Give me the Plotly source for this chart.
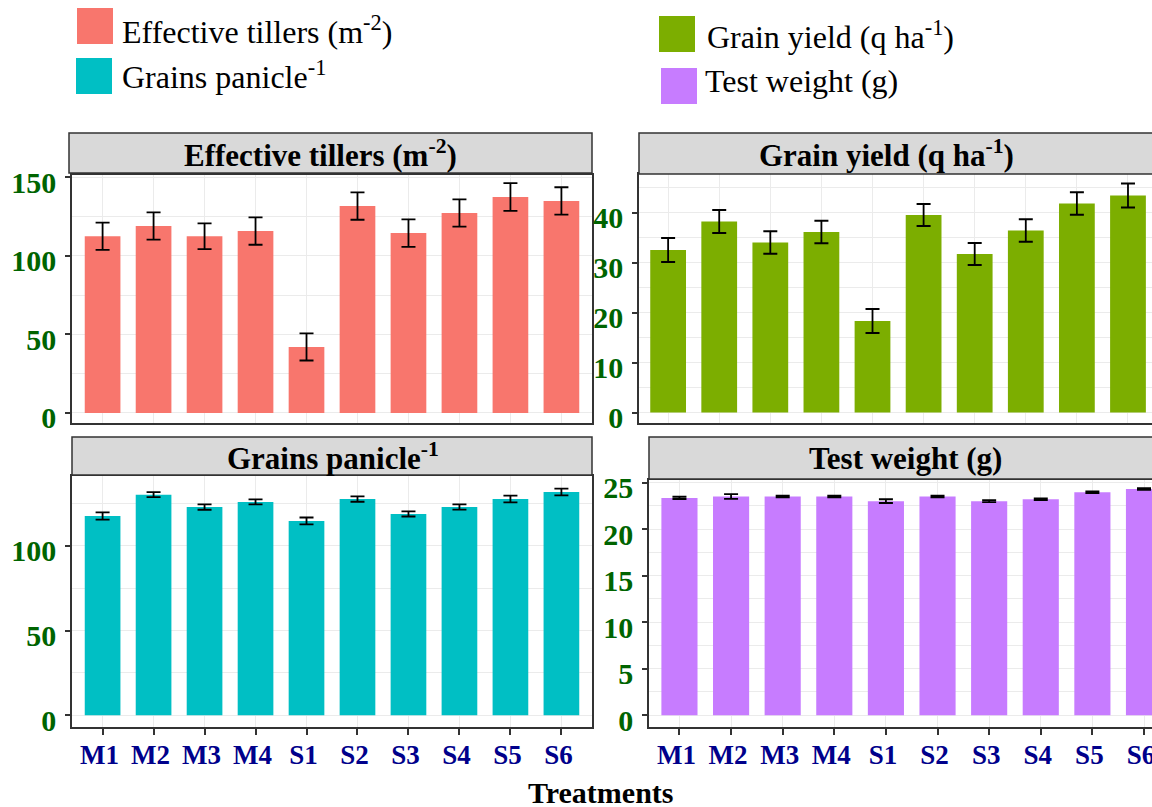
import plotly.graph_objects as go

# ---------------- data ----------------
treatments = ["M1", "M2", "M3", "M4", "S1", "S2", "S3", "S4", "S5", "S6"]

tillers = [112.5, 119.0, 112.5, 115.8, 42.0, 131.7, 114.5, 127.3, 137.5, 135.0]
tillers_err = [8.7, 8.7, 8.2, 8.7, 8.6, 8.7, 8.7, 8.7, 8.8, 8.7]

grain_yield = [32.5, 38.2, 34.0, 36.1, 18.3, 39.5, 31.7, 36.4, 41.8, 43.4]
grain_yield_err = [2.4, 2.3, 2.25, 2.25, 2.4, 2.2, 2.2, 2.25, 2.25, 2.4]

grains_panicle = [117.6, 130.2, 122.9, 125.9, 114.7, 127.6, 118.8, 122.9, 127.6, 131.8]
grains_panicle_err = [2.1, 1.5, 1.6, 1.5, 2.0, 1.6, 1.5, 1.5, 2.0, 2.0]

test_weight = [23.35, 23.5, 23.5, 23.5, 23.0, 23.5, 23.0, 23.2, 23.95, 24.3]
test_weight_err = [0.12, 0.25, 0.1, 0.1, 0.2, 0.1, 0.1, 0.1, 0.1, 0.1]

colors = {"till": "#F8766D", "yield": "#7CAE00", "pan": "#00BFC4", "tw": "#C77CFF"}

W, H = 1152, 807
def fx(p): return p / W
def fy(p): return 1 - p / H

SERIF = "Liberation Serif"
GRID = "#EBEBEB"
BORDER = "#333333"

fig = go.Figure()

panels = [
    dict(v=tillers, e=tillers_err, c=colors["till"], n=1,
         xp=(72, 592), yp=(175, 423), yr=[-6.4, 151.5], xr=[-0.6, 9.6], dt=50,
         title="Effective tillers (m<sup>-2</sup>)", strip=(69, 592, 133, 173), tx=320, ty=153, bottom=False),
    dict(v=grain_yield, e=grain_yield_err, c=colors["yield"], n=2,
         xp=(639, 1152), yp=(174, 423), yr=[-2.1, 47.7], xr=[-0.57, 9.47], dt=10,
         title="Grain yield (q ha<sup>-1</sup>)", strip=(639, 1160, 133, 174), tx=886, ty=153, bottom=False),
    dict(v=grains_panicle, e=grains_panicle_err, c=colors["pan"], n=3,
         xp=(72, 592), yp=(476, 727), yr=[-6.9, 141.2], xr=[-0.6, 9.6], dt=50,
         title="Grains panicle<sup>-1</sup>", strip=(72, 592, 437, 475), tx=333, ty=456, bottom=True),
    dict(v=test_weight, e=test_weight_err, c=colors["tw"], n=4,
         xp=(649, 1152), yp=(480, 727), yr=[-1.26, 25.27], xr=[-0.59, 9.155], dt=5,
         title="Test weight (g)", strip=(649, 1160, 437, 479), tx=905, ty=458, bottom=True),
]

shapes = []
annotations = []
layout_axes = {}

for p in panels:
    n = p["n"]
    xa = "x" if n == 1 else f"x{n}"
    ya = "y" if n == 1 else f"y{n}"
    fig.add_trace(go.Bar(
        x=treatments, y=p["v"], width=0.7, xaxis=xa, yaxis=ya,
        marker=dict(color=p["c"], line=dict(width=0)),
        error_y=dict(type="data", array=p["e"], color="black", thickness=1.8, width=7),
        showlegend=False,
    ))
    xkey = "xaxis" if n == 1 else f"xaxis{n}"
    ykey = "yaxis" if n == 1 else f"yaxis{n}"
    layout_axes[xkey] = dict(
        domain=[fx(p["xp"][0]), fx(p["xp"][1])], anchor=ya, type="category",
        range=p["xr"], automargin=False, showgrid=True, gridcolor=GRID, gridwidth=1.2,
        showline=True, mirror=True, linecolor=BORDER, linewidth=1.5,
        ticks="outside" if p["bottom"] else "", ticklen=6, tickcolor=BORDER, tickwidth=1.5,
        showticklabels=p["bottom"], ticklabelstandoff=-3, ticklabelshift=-3,
        tickfont=dict(family=SERIF, size=27, color="#00008B", weight="bold"),
        zeroline=False,
    )
    layout_axes[ykey] = dict(
        domain=[fy(p["yp"][1]), fy(p["yp"][0])], anchor=xa,
        range=p["yr"], automargin=False, tick0=0, dtick=p["dt"],
        showgrid=True, gridcolor=GRID, gridwidth=1.2,
        minor=dict(tick0=p["dt"] / 2, dtick=p["dt"], showgrid=True, gridcolor=GRID, gridwidth=0.8, ticks=""),
        showline=True, mirror=True, linecolor=BORDER, linewidth=1.5,
        ticks="outside", ticklen=5, tickcolor=BORDER, tickwidth=1.5,
        ticklabelstandoff=3, ticklabelshift=5,
        tickfont=dict(family=SERIF, size=30, color="#006400", weight="bold"),
        zeroline=False,
    )
    x0, x1, y0, y1 = p["strip"]
    shapes.append(dict(type="rect", xref="paper", yref="paper",
                       x0=fx(x0), x1=fx(x1), y0=fy(y1), y1=fy(y0),
                       fillcolor="#D9D9D9", line=dict(color=BORDER, width=1.5), layer="above"))
    annotations.append(dict(text=p["title"], xref="paper", yref="paper",
                            x=fx(p["tx"]), y=fy(p["ty"]), xanchor="center", yanchor="middle",
                            showarrow=False, font=dict(family=SERIF, size=31, color="black", weight="bold")))

# legend (manual, two columns)
legend_items = [
    ("Effective tillers (m<sup>-2</sup>)", colors["till"], (77, 113, 8, 44), (120, 30)),
    ("Grains panicle<sup>-1</sup>", colors["pan"], (76, 112, 58, 94), (120, 75)),
    ("Grain yield (q ha<sup>-1</sup>)", colors["yield"], (659, 695, 16, 52), (705, 35)),
    ("Test weight (g)", colors["tw"], (661, 697, 68, 104), (703, 81)),
]
for label, col, (x0, x1, y0, y1), (tx, ty) in legend_items:
    shapes.append(dict(type="rect", xref="paper", yref="paper",
                       x0=fx(x0), x1=fx(x1), y0=fy(y1), y1=fy(y0),
                       fillcolor=col, line=dict(width=0)))
    annotations.append(dict(text=label, xref="paper", yref="paper", x=fx(tx), y=fy(ty),
                            xanchor="left", yanchor="middle", showarrow=False,
                            font=dict(family=SERIF, size=32, color="black")))

annotations.append(dict(text="Treatments", xref="paper", yref="paper", x=fx(601), y=fy(792),
                        xanchor="center", yanchor="middle", showarrow=False,
                        font=dict(family=SERIF, size=30, color="black", weight="bold")))

fig.update_layout(
    width=W, height=H, margin=dict(l=0, r=0, t=0, b=0, autoexpand=False),
    paper_bgcolor="white", plot_bgcolor="white",
    shapes=shapes, annotations=annotations, bargap=0.3,
    **layout_axes,
)

fig.write_html(
    "out.html",
    config={"displayModeBar": False},
    post_script="document.body.style.margin='0px';document.body.style.overflow='hidden';document.documentElement.style.overflow='hidden';",
)
